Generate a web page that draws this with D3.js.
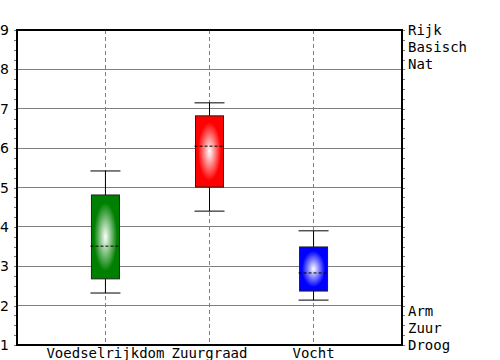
<!DOCTYPE html>
<html>
<head>
<meta charset="utf-8">
<script src="https://cdn.jsdelivr.net/npm/d3@7"></script>
<style>
  body { margin: 0; background: #fff; }
</style>
</head>
<body>
<svg id="chart"></svg>
<script>
// box plot data
const categories = ["Voedselrijkdom", "Zuurgraad", "Vocht"];
const colors = ["#008000", "#ff0000", "#0000ff"];
const whiskerLow = [2.32, 4.40, 2.14];
const q1 = [2.68, 5.01, 2.37];
const median = [3.51, 6.05, 2.83];
const q3 = [4.81, 6.82, 3.49];
const whiskerHigh = [5.42, 7.15, 3.90];
const yTicks = [1, 2, 3, 4, 5, 6, 7, 8, 9];
const topLabels = ["Rijk", "Basisch", "Nat"];
const bottomLabels = ["Arm", "Zuur", "Droog"];

const w = 500, h = 360;
const mLeft = 17, mRight = 402, mTop = 30, mBottom = 345;

const data = categories.map((c, i) => ({
  name: c, color: colors[i],
  lo: whiskerLow[i], q1: q1[i], med: median[i], q3: q3[i], hi: whiskerHigh[i]
}));

const svg = d3.select("#chart").attr("width", w).attr("height", h);

const x = d3.scalePoint().domain(categories).range([mLeft, mRight]).padding(0.85);
const y = d3.scaleLinear().domain([1, 9]).range([mBottom, mTop]);

// gradients
const defs = svg.append("defs");
data.forEach((d, i) => {
  const g = defs.append("radialGradient").attr("id", "grad" + i);
  g.append("stop").attr("offset", "0%").attr("stop-color", "#fff");
  g.append("stop").attr("offset", "82%").attr("stop-color", d.color);
  g.append("stop").attr("offset", "100%").attr("stop-color", d.color);
});

// horizontal grid
svg.append("g")
  .selectAll("line")
  .data(yTicks.slice(1, -1))
  .enter().append("line")
  .attr("x1", mLeft).attr("x2", mRight)
  .attr("y1", d => y(d)).attr("y2", d => y(d))
  .attr("stroke", "#808080").attr("stroke-width", 1)
  .attr("shape-rendering", "crispEdges");

// vertical dashed lines at categories
svg.append("g")
  .selectAll("line")
  .data(categories)
  .enter().append("line")
  .attr("x1", d => x(d)).attr("x2", d => x(d))
  .attr("y1", mTop).attr("y2", mBottom)
  .attr("stroke", "#808080").attr("stroke-dasharray", "4,3")
  .attr("shape-rendering", "crispEdges");

// minor / major ticks left and right
const minor = d3.range(1, 9.001, 0.25);
const leftAxis = d3.axisLeft(y).tickValues(minor).tickSize(3).tickFormat("");
const rightAxis = d3.axisRight(y).tickValues(minor).tickSize(3).tickFormat("");
svg.append("g").attr("transform", `translate(${mLeft},0)`).call(leftAxis)
  .call(g => g.select(".domain").remove())
  .call(g => g.selectAll("line").attr("stroke", "#777").attr("shape-rendering", "crispEdges"));
svg.append("g").attr("transform", `translate(${mRight},0)`).call(rightAxis)
  .call(g => g.select(".domain").remove())
  .call(g => g.selectAll("line").attr("stroke", "#777").attr("shape-rendering", "crispEdges"));

svg.append("g")
  .selectAll("text")
  .data(yTicks)
  .enter().append("text")
  .attr("x", 0).attr("y", d => y(d) + 5)
  .attr("font-family", "DejaVu Sans, sans-serif")
  .attr("font-size", 14)
  .text(d => d);

// boxes
const bw = 28;
const boxes = svg.append("g").selectAll("g").data(data).enter().append("g");

boxes.append("line")
  .attr("x1", d => x(d.name)).attr("x2", d => x(d.name))
  .attr("y1", d => y(d.hi)).attr("y2", d => y(d.q3))
  .attr("stroke", "#000");
boxes.append("line")
  .attr("x1", d => x(d.name)).attr("x2", d => x(d.name))
  .attr("y1", d => y(d.q1)).attr("y2", d => y(d.lo))
  .attr("stroke", "#000");
boxes.append("line")
  .attr("x1", d => x(d.name) - 15).attr("x2", d => x(d.name) + 15)
  .attr("y1", d => y(d.hi)).attr("y2", d => y(d.hi))
  .attr("stroke", "#000");
boxes.append("line")
  .attr("x1", d => x(d.name) - 15).attr("x2", d => x(d.name) + 15)
  .attr("y1", d => y(d.lo)).attr("y2", d => y(d.lo))
  .attr("stroke", "#000");
boxes.append("rect")
  .attr("x", d => x(d.name) - bw / 2)
  .attr("width", bw)
  .attr("y", d => y(d.q3))
  .attr("height", d => y(d.q1) - y(d.q3))
  .attr("fill", (d, i) => `url(#grad${i})`)
  .attr("stroke", "#222").attr("stroke-width", 1);
boxes.append("line")
  .attr("x1", d => x(d.name) - 15).attr("x2", d => x(d.name) + 15)
  .attr("y1", d => y(d.med)).attr("y2", d => y(d.med))
  .attr("stroke", "#000").attr("stroke-dasharray", "3,2");

// frame
svg.append("rect")
  .attr("x", mLeft).attr("y", mTop)
  .attr("width", mRight - mLeft).attr("height", mBottom - mTop)
  .attr("fill", "none").attr("stroke", "#000").attr("stroke-width", 2);

// category labels
svg.append("g")
  .selectAll("text")
  .data(categories)
  .enter().append("text")
  .attr("x", d => x(d)).attr("y", 358)
  .attr("text-anchor", "middle")
  .attr("font-family", "DejaVu Sans Mono, monospace")
  .attr("font-size", 14)
  .text(d => d);

// right side labels
const rl = svg.append("g")
  .attr("font-family", "DejaVu Sans Mono, monospace")
  .attr("font-size", 14);
rl.selectAll("text.top")
  .data(topLabels)
  .enter().append("text")
  .attr("x", 408).attr("y", (d, i) => y(9) + 5 + i * 17)
  .text(d => d);
rl.selectAll("text.bot")
  .data(bottomLabels)
  .enter().append("text")
  .attr("x", 408).attr("y", (d, i) => y(1) + 5 - (2 - i) * 17)
  .text(d => d);
</script>
</body>
</html>
